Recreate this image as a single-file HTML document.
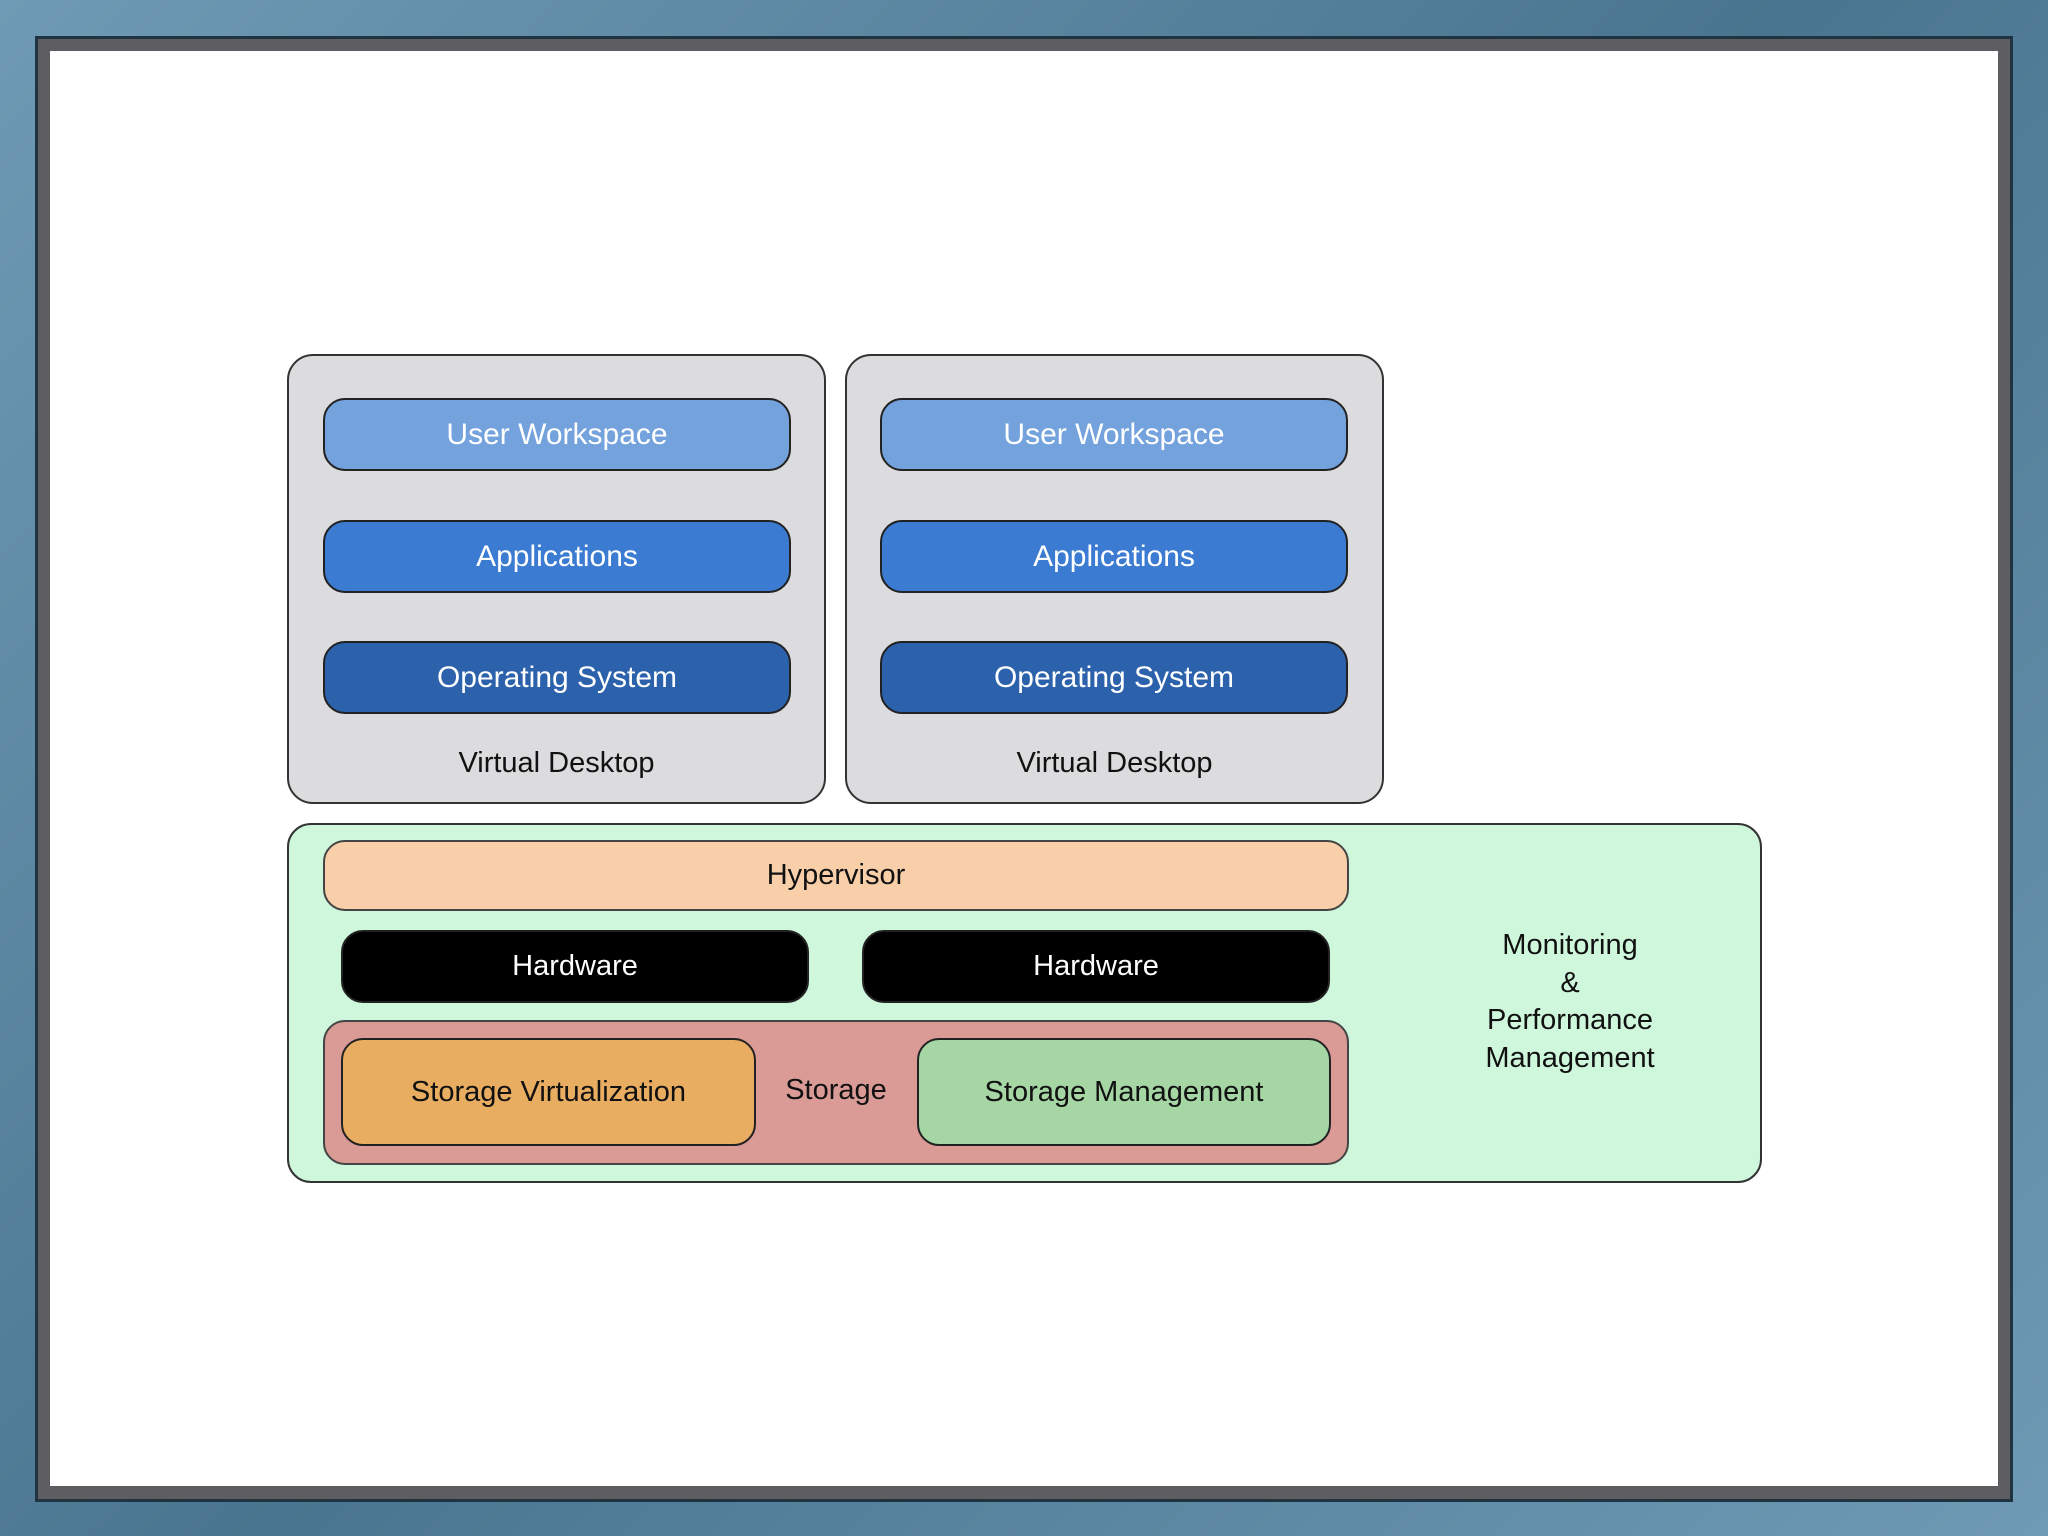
<!DOCTYPE html>
<html><head><meta charset="utf-8"><style>
html,body{margin:0;padding:0;}
body{width:2048px;height:1536px;position:relative;overflow:hidden;background:linear-gradient(135deg,#6f9ab5 0%,#4a7590 50%,#6f9ab5 100%);font-family:"Liberation Sans",sans-serif;}
.frame{position:absolute;left:35px;top:36px;width:1978px;height:1466px;box-sizing:border-box;border:3px solid #1f3440;background:#5e5e62;}
.white{position:absolute;left:50px;top:51px;width:1948px;height:1435px;background:#fff;}
.b{position:absolute;box-sizing:border-box;border:2px solid #222;display:flex;align-items:center;justify-content:center;text-align:center;}
.vd{background:#dcdcde;border-radius:26px;border-color:#333;}
.p{border-radius:22px;font-size:30px;color:#fff;}
.uw{background:#73a2dd;}
.ap{background:#3b7bd1;}
.os{background:#2c62ac;}
.t{position:absolute;font-size:29px;color:#111;text-align:center;}
</style></head><body>
<div class="frame"></div>
<div class="white"></div>

<div class="b vd" style="left:287px;top:354px;width:539px;height:450px"></div>
<div class="b vd" style="left:845px;top:354px;width:539px;height:450px"></div>

<div class="b p uw" style="left:323px;top:398px;width:468px;height:73px">User Workspace</div>
<div class="b p ap" style="left:323px;top:520px;width:468px;height:73px">Applications</div>
<div class="b p os" style="left:323px;top:641px;width:468px;height:73px">Operating System</div>
<div class="t" style="left:287px;width:539px;top:747px">Virtual Desktop</div>

<div class="b p uw" style="left:880px;top:398px;width:468px;height:73px">User Workspace</div>
<div class="b p ap" style="left:880px;top:520px;width:468px;height:73px">Applications</div>
<div class="b p os" style="left:880px;top:641px;width:468px;height:73px">Operating System</div>
<div class="t" style="left:845px;width:539px;top:747px">Virtual Desktop</div>

<div class="b" style="left:287px;top:823px;width:1475px;height:360px;background:#cff7dc;border-radius:24px;border-color:#333"></div>
<div class="b p" style="left:323px;top:840px;width:1026px;height:71px;background:#f8cfa9;color:#111;font-size:29px;border-color:#444">Hypervisor</div>
<div class="b p" style="left:341px;top:930px;width:468px;height:73px;background:#000;font-size:29px">Hardware</div>
<div class="b p" style="left:862px;top:930px;width:468px;height:73px;background:#000;font-size:29px">Hardware</div>
<div class="b" style="left:323px;top:1020px;width:1026px;height:145px;background:#da9b96;border-radius:22px;border-color:#444"></div>
<div class="b p" style="left:341px;top:1038px;width:415px;height:108px;background:#e9ad61;color:#111;font-size:29px">Storage Virtualization</div>
<div class="b p" style="left:917px;top:1038px;width:414px;height:108px;background:#a5d6a4;color:#111;font-size:29px">Storage Management</div>
<div class="t" style="left:755px;width:162px;top:1074px">Storage</div>
<div class="t" style="left:1420px;width:300px;top:927px;line-height:37.5px">Monitoring<br>&amp;<br>Performance<br>Management</div>
</body></html>
